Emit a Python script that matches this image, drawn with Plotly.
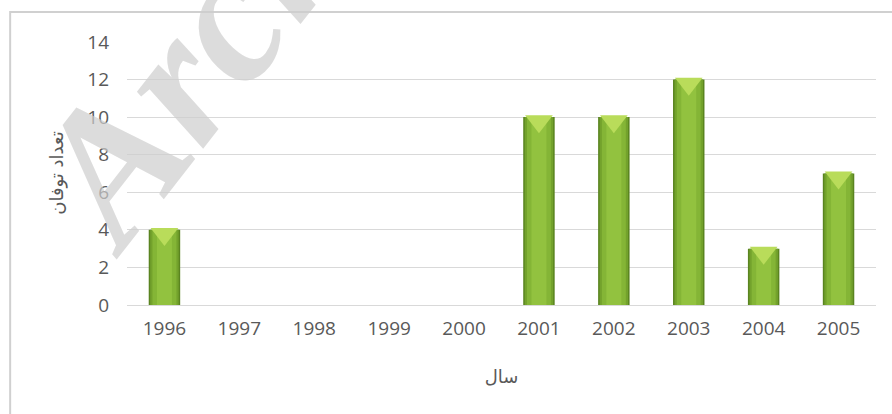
"""Storm count per year bar chart (recreated)."""

import plotly.graph_objects as go

years = ['1996', '1997', '1998', '1999', '2000', '2001', '2002', '2003', '2004', '2005']
storms = [4, 0, 0, 0, 0, 10, 10, 12, 3, 7]
y_ticks = [0, 2, 4, 6, 8, 10, 12, 14]

# layered widths/colours to fake the shaded bar look
bar_layers = [
    (0.42, '#5a8420'),
    (0.38, '#73a22c'),
    (0.32, '#84b536'),
    (0.20, '#92c23f'),
]

fig = go.Figure()

for width, color in bar_layers:
    fig.add_trace(go.Bar(
        x=years,
        y=storms,
        width=width,
        marker={'color': color, 'line': {'width': 0}},
        hoverinfo='skip',
        showlegend=False
    ))

# bevelled top highlight
top_x = [yr for yr, v in zip(years, storms) if v > 0]
top_y = [v - 0.22 for v in storms if v > 0]
fig.add_trace(go.Scatter(
    x=top_x,
    y=top_y,
    mode='markers',
    marker={'symbol': 'triangle-down', 'size': 24, 'color': '#b9dc5a',
            'line': {'width': 0}},
    hoverinfo='skip',
    showlegend=False
))

fig.update_xaxes(
    title_text='سال',
    title_font={'family': 'DejaVu Sans', 'size': 18, 'color': '#595959'},
    title_standoff=30,
    range=[-0.5, len(years) - 0.5],
    tickfont={'family': 'Open Sans', 'size': 19, 'color': '#595959'},
    ticklabelstandoff=10,
    showline=False,
    showgrid=False,
    automargin=False
)

fig.update_yaxes(
    title_text='تعداد توفان',
    title_font={'family': 'DejaVu Sans', 'size': 18, 'color': '#595959'},
    title_standoff=18,
    range=[0, 14.05],
    tickvals=y_ticks,
    tickfont={'family': 'Open Sans', 'size': 19, 'color': '#595959'},
    ticklabelstandoff=17,
    gridcolor='#d9d9d9',
    gridwidth=1,
    zeroline=True,
    zerolinecolor='#d9d9d9',
    zerolinewidth=1,
    showline=False,
    automargin=False
)

# chart frame (only top and left edges are visible in the picture)
fig.add_shape(type='rect', xref='paper', yref='paper',
              x0=-0.156, y0=-0.6, x1=1.2, y1=1.11,
              line={'color': '#d0d0d0', 'width': 2}, layer='below')

# faint watermark
fig.add_annotation(
    text='<b><i>Archive of SID</i></b>',
    xref='paper', yref='paper', x=0.408, y=2.10,
    xanchor='center', yanchor='middle',
    showarrow=False, textangle=-52,
    font={'family': 'Liberation Serif', 'size': 190,
          'color': 'rgba(205,205,205,0.7)'}
)

fig.update_layout(
    width=892,
    height=414,
    margin={'l': 127, 'r': 16, 't': 41, 'b': 109},
    barmode='overlay',
    bargap=0.58,
    plot_bgcolor='white',
    paper_bgcolor='white'
)

fig.write_html('out.html', config={'displayModeBar': False},
               post_script="document.body.style.margin='0';")
